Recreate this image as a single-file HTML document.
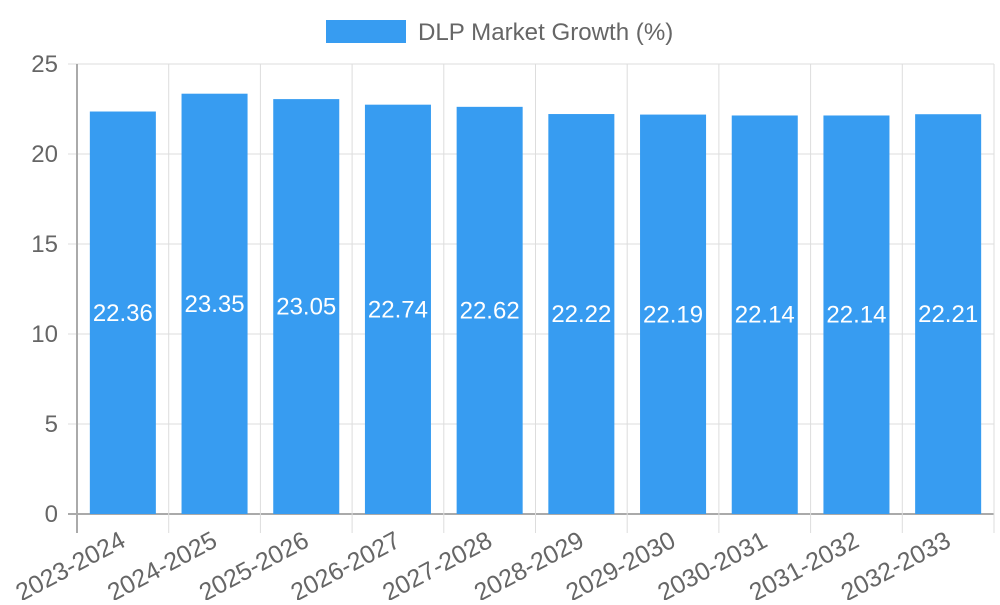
<!DOCTYPE html>
<html><head><meta charset="utf-8"><style>
body{margin:0;background:#fff;}
svg text{font-family:"Liberation Sans",sans-serif;}
</style></head><body>
<svg id="chart" width="1000" height="600">
<g>
<rect x="326" y="20" width="80" height="23" fill="#379cf1"></rect>
<text x="418" y="40" font-size="24.1" fill="#666">DLP Market Growth (%)</text>
</g>
<g id="grid"></g><g id="bars"></g><g id="labels"></g>
</svg>
<script>
const categories=["2023-2024","2024-2025","2025-2026","2026-2027","2027-2028","2028-2029","2029-2030","2030-2031","2031-2032","2032-2033"];
const values=[22.36,23.35,23.05,22.74,22.62,22.22,22.19,22.14,22.14,22.21];
const yTicks=[0,5,10,15,20,25];
const NS="http://www.w3.org/2000/svg";
const L=77,R=994,T=64,B=514,yMax=25;
const y=v=>B-(v/yMax)*(B-T);
const bw=(R-L)/categories.length;
const x=i=>L+i*bw;
function mk(tag,attrs,parent,text){const e=document.createElementNS(NS,tag);for(const k in attrs)e.setAttribute(k,attrs[k]);if(text!==undefined)e.textContent=text;parent.appendChild(e);return e;}
const grid=document.getElementById('grid'),bars=document.getElementById('bars'),labels=document.getElementById('labels');
yTicks.forEach(t=>{
 const ln=mk('line',{x1:68,x2:R,y1:y(t),y2:y(t),stroke:t===0?'#aaa':'#ddd','stroke-width':t===0?2:1},grid);
 
 
 const tx=mk('text',{x:58,y:y(t)+8,'text-anchor':'end','font-size':24,fill:'#666'},grid,String(t));
 
 
});
for(let i=0;i<=categories.length;i++){
 const ln=mk('line',{x1:x(i),x2:x(i),y1:T,y2:533,stroke:i===0?'#aaa':'#ddd','stroke-width':i===0?2:1},grid);
 
 
}
categories.forEach((c,i)=>{
 const cx=x(i)+bw/2,w=bw*0.72,v=values[i];
 const r=mk('rect',{x:cx-w/2,y:y(v),width:w,height:B-y(v),fill:'#379cf1'},bars);
 
 
 const vt=mk('text',{x:cx,y:(y(v)+B)/2+8,'text-anchor':'middle','font-size':24,fill:'#fff'},labels,v.toFixed(2));
 
 
 const ax=cx-4,ay=530;
 const xt=mk('text',{x:ax,y:ay,'text-anchor':'end','font-size':25,fill:'#666',transform:`rotate(-28 ${ax} ${ay})`,'dominant-baseline':'hanging'},labels,c);
 
 
});
</script>
</body></html>
